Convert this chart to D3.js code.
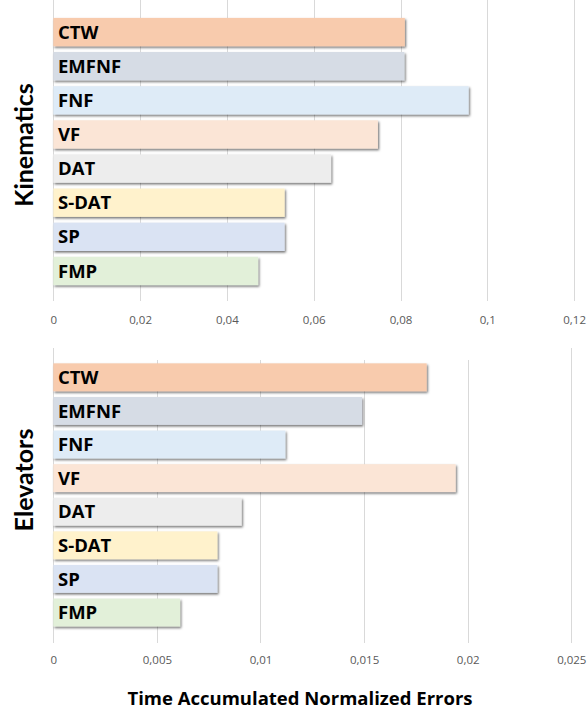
<!DOCTYPE html>
<html><head><meta charset="utf-8">
<script src="https://cdn.jsdelivr.net/npm/d3@7"></script>
<style>body{margin:0;background:#fff}svg{display:block}</style>
</head><body>
<svg id="c" width="587" height="711"></svg>
<script>
const categories = ["CTW","EMFNF","FNF","VF","DAT","S-DAT","SP","FMP"];
const colors = ["#F8CBAD","#D6DCE5","#DEEBF7","#FBE5D6","#EDEDED","#FFF2CC","#DAE3F3","#E2F0D9"];
const kinematicsValues = [0.081,0.0809,0.0957,0.0748,0.064,0.0533,0.0533,0.0472];
const elevatorsValues = [0.01802,0.0149,0.0112,0.01942,0.00909,0.00792,0.00792,0.00612];
const kinematicsTicks = [0,0.02,0.04,0.06,0.08,0.1,0.12];
const elevatorsTicks = [0,0.005,0.01,0.015,0.02,0.025];
const panelTitles = ["Kinematics","Elevators"];
const xTitle = "Time Accumulated Normalized Errors";

const svg = d3.select("#c");
const defs = svg.append("defs");
defs.append("filter").attr("id","sh").attr("x","-5%").attr("y","-20%").attr("width","115%").attr("height","150%")
  .append("feDropShadow").attr("dx",1.2).attr("dy",1.6).attr("stdDeviation",0.9)
  .attr("flood-color","#000").attr("flood-opacity",0.55);

const fmt = v => String(v).replace(".", ",");

function panel(values, ticks, cfg){
  const x = d3.scaleLinear().domain([0, ticks[ticks.length-1]]).range([53.3, cfg.xMax]);
  const y = d3.scaleBand().domain(categories).range(cfg.yRange).paddingInner(0.17).paddingOuter(0.085);
  const g = svg.append("g");
  g.append("g").selectAll("line").data(ticks).join("line")
    .attr("x1", d=>Math.round(x(d))+0.5).attr("x2", d=>Math.round(x(d))+0.5)
    .attr("y1", (d,i)=> (i===0||i===ticks.length-1)? cfg.gTop0 : cfg.gTop).attr("y2", cfg.gBot)
    .attr("stroke","#d9d9d9").attr("stroke-width",1);
  const ax = d3.axisBottom(x).tickValues(ticks).tickFormat(fmt).tickSize(0).tickPadding(0);
  const axg = g.append("g").attr("transform",`translate(0,${cfg.tickY})`).call(ax);
  axg.select(".domain").remove();
  axg.selectAll("text").attr("fill","#595959").attr("font-family","'Open Sans', sans-serif").attr("font-size","11.5px").attr("dy","0");
  g.append("g").selectAll("rect").data(values).join("rect")
    .attr("x", x(0)).attr("y", (d,i)=>y(categories[i]))
    .attr("width", d=>x(d)-x(0)).attr("height", y.bandwidth())
    .attr("fill",(d,i)=>colors[i]).attr("filter","url(#sh)");
  g.append("g").selectAll("text").data(categories).join("text")
    .attr("x", 58).attr("y", d=>y(d)+y.bandwidth()/2).attr("dy","0.36em")
    .attr("font-family","'Open Sans', sans-serif").attr("font-weight","bold").attr("font-size","18.5px")
    .attr("fill","#000").text(d=>d);
  svg.append("text").attr("transform",`translate(${cfg.titleX},${cfg.titleY}) rotate(-90)`)
    .attr("text-anchor","middle").attr("font-family","Lato, 'Open Sans', sans-serif").attr("font-weight","bold")
    .attr("font-size",cfg.titleSize).attr("fill","#000").text(cfg.title);
}

panel(kinematicsValues, kinematicsTicks, {xMax:574.1, yRange:[15,288], gTop:0, gTop0:0, gBot:301, tickY:324, titleX:33, titleY:145, titleSize:"25px", title:panelTitles[0]});
panel(elevatorsValues, elevatorsTicks, {xMax:571.3, yRange:[360.5,629.3], gTop:360, gTop0:348, gBot:643, tickY:664, titleX:33, titleY:480, titleSize:"25px", title:panelTitles[1]});

svg.append("text").attr("x",300).attr("y",705).attr("text-anchor","middle")
  .attr("font-family","'Open Sans', sans-serif").attr("font-weight","bold").attr("font-size","18.5px")
  .attr("fill","#000").text(xTitle);
</script>
</body></html>
